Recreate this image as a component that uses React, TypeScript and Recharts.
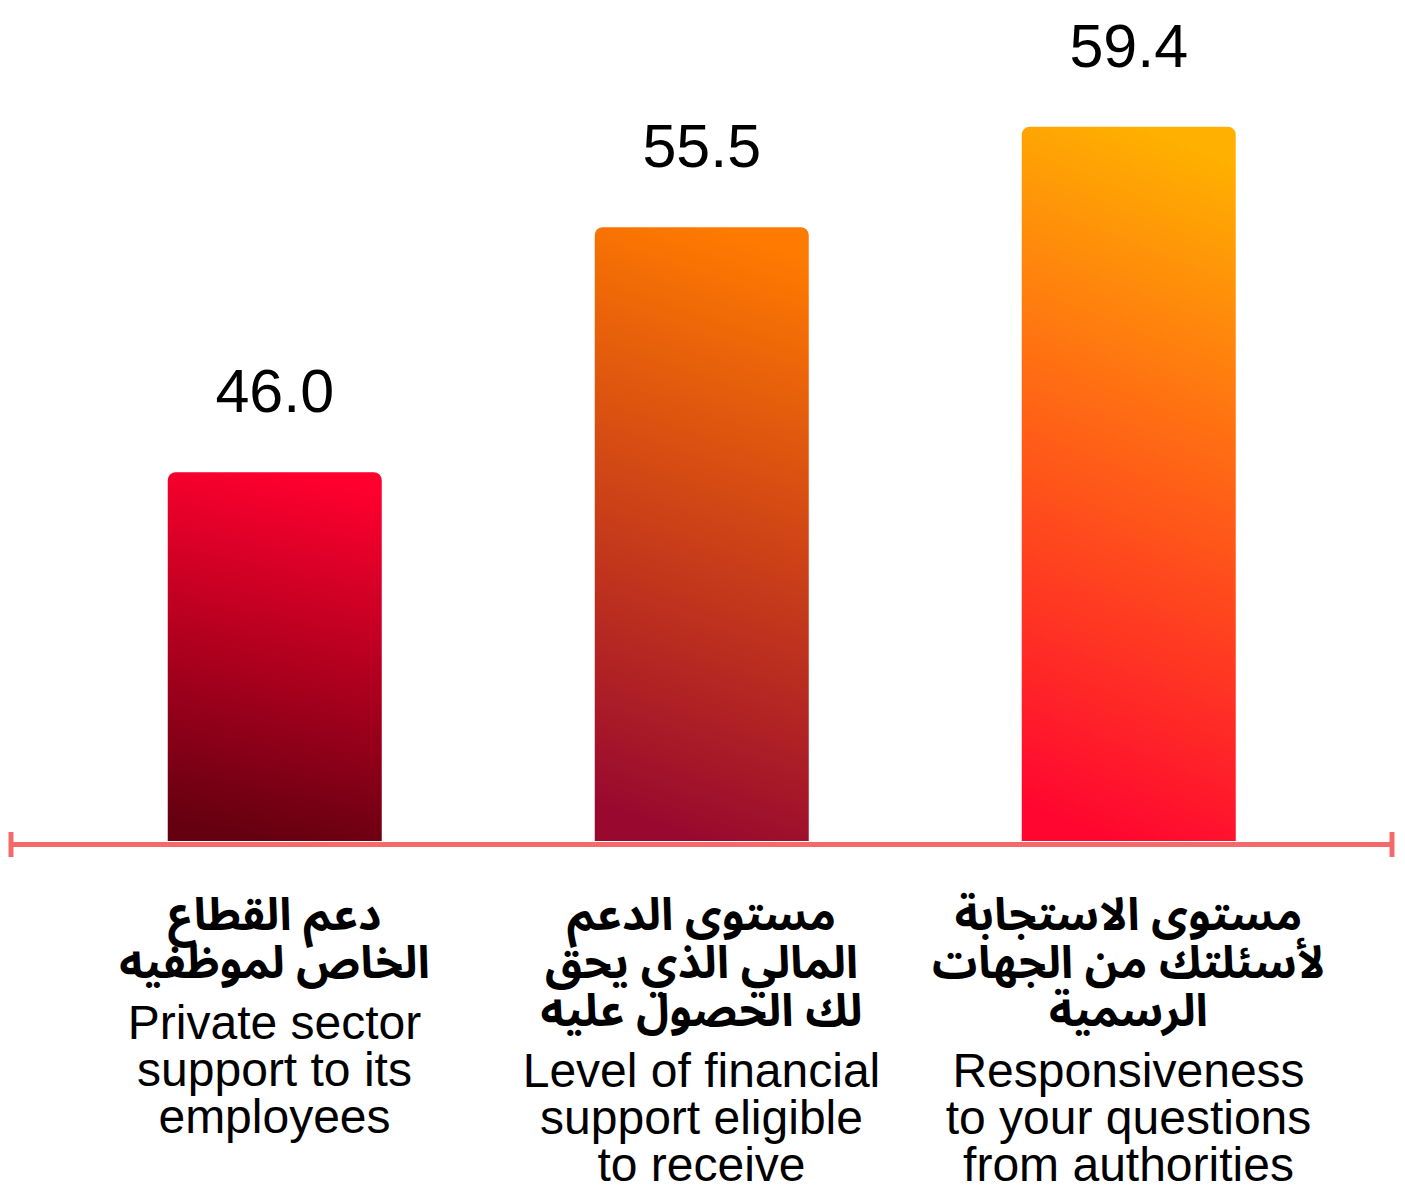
import React from 'react';
import { BarChart, Bar, XAxis, YAxis, Cell, LabelList, ReferenceLine } from 'recharts';

// ---- data ----
const categories = ['private', 'financial', 'responsiveness'];
const values = [46.0, 55.5, 59.4];
const arabicLabels = [
  ['دعم القطاع', 'الخاص لموظفيه'],
  ['مستوى الدعم', 'المالي الذي يحق', 'لك الحصول عليه'],
  ['مستوى الاستجابة', 'لأسئلتك من الجهات', 'الرسمية'],
];
const englishLabels = [
  ['Private sector', 'support to its', 'employees'],
  ['Level of financial', 'support eligible', 'to receive'],
  ['Responsiveness', 'to your questions', 'from authorities'],
];
const gradientTop = ['#FF002E', '#FF7A00', '#FFB000'];
const gradientBottom = ['#640010', '#98082F', '#FF0630'];

const data = categories.map((c, i) => ({ category: c, value: values[i] }));

// ---- style ----
const AXIS_COLOR = '#F46A6A';
const LATIN = '"Liberation Sans", Arial, Helvetica, sans-serif';
const ARABIC = '"Noto Sans Arabic", "Noto Kufi Arabic", "DejaVu Sans", sans-serif';
const Y_DOMAIN: [number, number] = [31.7, 64];
const CAP_RANGE: [number, number] = [32.05, 31.08];
const FRAME_END = data.length - 1;

function CategoryTick(props: any) {
  const { x, y, payload } = props;
  const i = categories.indexOf(payload.value);
  if (i < 0) return null;
  const ar = arabicLabels[i];
  const en = englishLabels[i];
  const arStart = y + 89;
  const arLH = 48;
  const enStart = arStart + (ar.length - 1) * arLH + 61;
  const enLH = 47;
  return (
    <g>
      {ar.map((line, k) => (
        <text
          key={'ar' + k}
          x={x}
          y={arStart + k * arLH}
          textAnchor="middle"
          direction="rtl"
          fontFamily={ARABIC}
          fontWeight={700}
          fontSize={45}
          fill="#000"
        >
          {line}
        </text>
      ))}
      {en.map((line, k) => (
        <text
          key={'en' + k}
          x={x}
          y={enStart + k * enLH}
          textAnchor="middle"
          fontFamily={LATIN}
          fontSize={48}
          fill="#000"
        >
          {line}
        </text>
      ))}
    </g>
  );
}

export default function App() {
  return (
    <div style={{ width: 1387, height: 1185, background: '#fff' }}>
      <BarChart
        width={1387}
        height={1185}
        data={data}
        margin={{ top: 0, right: 3, left: 3, bottom: 0 }}
        barCategoryGap="25%"
      >
        <defs>
          {categories.map((c, i) => (
            <linearGradient key={c} id={'grad' + i} x1="0.56" y1="0" x2="0.44" y2="1">
              <stop offset="0%" stopColor={gradientTop[i]} />
              <stop offset="100%" stopColor={gradientBottom[i]} />
            </linearGradient>
          ))}
        </defs>
        <XAxis
          dataKey="category"
          type="category"
          height={352}
          padding={{ left: 50, right: 50 }}
          tickLine={false}
          tickSize={0}
          tickMargin={0}
          interval={0}
          axisLine={{ stroke: AXIS_COLOR, strokeWidth: 5, transform: 'translate(0 3.5)' } as any}
          tick={<CategoryTick />}
        />
        <XAxis xAxisId="frame" type="number" domain={[0, FRAME_END]} allowDataOverflow hide />
        <YAxis hide type="number" domain={Y_DOMAIN} allowDataOverflow />
        <Bar dataKey="value" isAnimationActive={false} radius={[8, 8, 0, 0]}>
          {data.map((d, i) => (
            <Cell key={d.category} fill={`url(#grad${i})`} />
          ))}
          <LabelList
            dataKey="value"
            position="top"
            offset={60}
            formatter={(v: any) => Number(v).toFixed(1)}
            style={{ fontFamily: LATIN, fontSize: 61, fill: '#000' }}
          />
        </Bar>
        <ReferenceLine
          xAxisId="frame"
          segment={[{ x: 0, y: CAP_RANGE[0] }, { x: 0, y: CAP_RANGE[1] }]}
          stroke={AXIS_COLOR}
          strokeWidth={5}
          ifOverflow="visible"
        />
        <ReferenceLine
          xAxisId="frame"
          segment={[{ x: FRAME_END, y: CAP_RANGE[0] }, { x: FRAME_END, y: CAP_RANGE[1] }]}
          stroke={AXIS_COLOR}
          strokeWidth={5}
          ifOverflow="visible"
        />
      </BarChart>
    </div>
  );
}
